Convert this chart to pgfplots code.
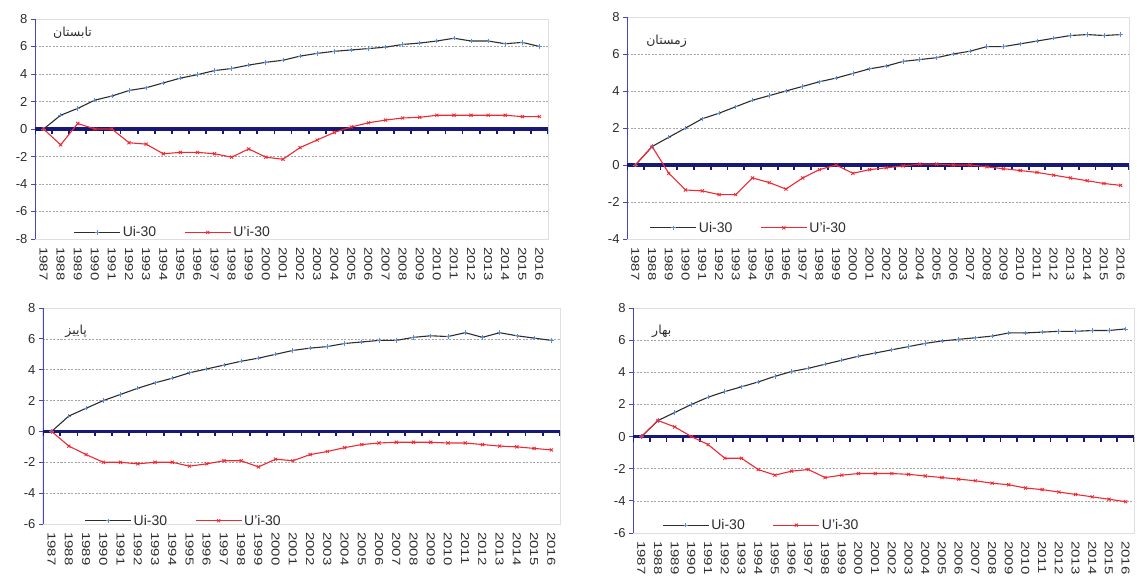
\documentclass[border=0pt]{standalone}
\usepackage{fontspec}
\setmainfont{Liberation Sans}
\newfontfamily\arabicfont[Script=Arabic]{DejaVu Sans}
\newfontfamily\yearfont[FakeStretch=1.3]{Liberation Sans}
\TeXXeTstate=1
\usepackage{pgfplots}
\pgfplotsset{compat=1.18}
\definecolor{navyz}{RGB}{24,24,120}
\definecolor{yax}{RGB}{70,70,190}
\definecolor{sonel}{RGB}{45,45,45}
\definecolor{sonem}{RGB}{90,140,220}
\definecolor{stwoc}{RGB}{240,40,50}
\definecolor{gridc}{RGB}{165,165,165}
\definecolor{tickc}{RGB}{45,45,45}

\pgfplotsset{
  panel/.style={
    scale only axis, anchor=south west,
    xmin=1986.5, xmax=2016.5,
    xtick={1987,...,2016},
    /pgf/number format/1000 sep={},
    /pgf/number format/assume math mode=true,
    xticklabel style={yshift=-4pt, rotate=-90, anchor=west, font=\yearfont\fontsize{11.5}{11.5}\selectfont, text=tickc, inner sep=0pt},
    yticklabel style={font=\fontsize{13}{13}\selectfont, text=tickc},
    x tick style={draw=none},
    ytick style={yax, line width=0.8pt},
    tick align=outside, tick pos=left,
    major tick length=4pt,
    axis line style={gray!25},
    ymajorgrids, grid style={gridc, dash pattern=on 2pt off 1.5pt, line width=0.6pt},
    legend columns=2,
    legend cell align=left,
    legend style={draw=none, fill=none, inner sep=0pt, anchor=west,
      font=\fontsize{14}{14}\selectfont, text=tickc,
      /tikz/every even column/.append style={column sep=26pt}},
    legend image code/.code={\draw[mark repeat=2,mark phase=2,##1] plot coordinates {(0pt,0pt)(23pt,0pt)(46pt,0pt)};},
  },
  sone/.style={sonel, line width=1.1pt, mark=+, mark size=2.2pt, mark options={sonem, line width=0.8pt}},
  stwo/.style={stwoc, line width=1.1pt, mark=x, mark size=2.2pt, mark options={stwoc, line width=0.8pt}},
}

\newcommand{\zeroline}{%
  \draw[yax, line width=1.2pt] (rel axis cs:0,0) -- (rel axis cs:0,1);
  \draw[navyz, line width=3.2pt] (axis cs:1986.5,0) -- (axis cs:2016.5,0);
  \pgfplotsinvokeforeach{1986.5,1987.5,...,2016.5}{\draw[navyz, line width=1.8pt] (axis cs:##1,0) -- ++(0pt,-5pt);}
}

\begin{document}
\begin{tikzpicture}
\useasboundingbox (0,0) rectangle (1137pt,-577pt);

% ---------------- Panel 1 : summer ----------------
\begin{axis}[panel, at={(35pt,-239pt)}, width=513pt, height=220pt,
  ymin=-8, ymax=8, ytick={-8,-6,...,8},
  legend style={at={(rel axis cs:0.075,0.03)}}]
\zeroline
\addplot[sone] coordinates {
(1987,0)(1988,1.0)(1989,1.5)(1990,2.1)(1991,2.4)(1992,2.8)(1993,3.0)(1994,3.35)(1995,3.7)(1996,3.95)
(1997,4.25)(1998,4.4)(1999,4.65)(2000,4.85)(2001,5.0)(2002,5.3)(2003,5.5)(2004,5.65)(2005,5.75)(2006,5.85)
(2007,5.95)(2008,6.15)(2009,6.25)(2010,6.4)(2011,6.6)(2012,6.4)(2013,6.4)(2014,6.2)(2015,6.3)(2016,6.0)};
\addlegendentry{Ui-30}
\addplot[stwo] coordinates {
(1987,0)(1988,-1.15)(1989,0.4)(1990,0)(1991,0)(1992,-1.0)(1993,-1.1)(1994,-1.8)(1995,-1.7)(1996,-1.7)
(1997,-1.8)(1998,-2.05)(1999,-1.45)(2000,-2.05)(2001,-2.2)(2002,-1.35)(2003,-0.8)(2004,-0.25)(2005,0.15)(2006,0.45)
(2007,0.65)(2008,0.8)(2009,0.85)(2010,1.0)(2011,1.0)(2012,1.0)(2013,1.0)(2014,1.0)(2015,0.9)(2016,0.9)};
\addlegendentry{U'i-30}
\node[anchor=north west, inner sep=0pt, text=tickc, font=\arabicfont\fontsize{12.5}{12.5}\selectfont] at (rel axis cs:0.035,0.965) {\beginR تابستان\endR};
\end{axis}

% ---------------- Panel 2 : winter ----------------
\begin{axis}[panel, at={(627pt,-239pt)}, width=502pt, height=222pt,
  ymin=-4, ymax=8, ytick={-4,-2,...,8},
  legend style={at={(rel axis cs:0.045,0.05)}}]
\zeroline
\addplot[sone] coordinates {
(1987,0)(1988,1.0)(1989,1.5)(1990,2.0)(1991,2.5)(1992,2.8)(1993,3.15)(1994,3.5)(1995,3.75)(1996,4.0)
(1997,4.25)(1998,4.5)(1999,4.7)(2000,4.95)(2001,5.2)(2002,5.35)(2003,5.6)(2004,5.7)(2005,5.8)(2006,6.0)
(2007,6.15)(2008,6.4)(2009,6.4)(2010,6.55)(2011,6.7)(2012,6.85)(2013,7.0)(2014,7.05)(2015,7.0)(2016,7.05)};
\addlegendentry{Ui-30}
\addplot[stwo] coordinates {
(1987,0)(1988,1.0)(1989,-0.45)(1990,-1.35)(1991,-1.4)(1992,-1.6)(1993,-1.6)(1994,-0.7)(1995,-0.95)(1996,-1.3)
(1997,-0.7)(1998,-0.25)(1999,0.0)(2000,-0.45)(2001,-0.25)(2002,-0.15)(2003,-0.05)(2004,0.05)(2005,0.05)(2006,0)
(2007,0)(2008,-0.1)(2009,-0.2)(2010,-0.3)(2011,-0.4)(2012,-0.55)(2013,-0.7)(2014,-0.85)(2015,-1.0)(2016,-1.1)};
\addlegendentry{U'i-30}
\node[anchor=north west, inner sep=0pt, text=tickc, font=\arabicfont\fontsize{12.5}{12.5}\selectfont] at (rel axis cs:0.038,0.92) {\beginR زمستان\endR};
\end{axis}

% ---------------- Panel 3 : autumn ----------------
\begin{axis}[panel, at={(43pt,-524pt)}, width=517pt, height=216pt,
  ymin=-6, ymax=8, ytick={-6,-4,...,8},
  legend style={at={(rel axis cs:0.08,0.015)}}]
\zeroline
\addplot[sone] coordinates {
(1987,0)(1988,1.0)(1989,1.5)(1990,2.0)(1991,2.4)(1992,2.8)(1993,3.15)(1994,3.45)(1995,3.8)(1996,4.05)
(1997,4.3)(1998,4.55)(1999,4.75)(2000,5.0)(2001,5.25)(2002,5.4)(2003,5.5)(2004,5.7)(2005,5.8)(2006,5.9)
(2007,5.9)(2008,6.1)(2009,6.2)(2010,6.15)(2011,6.4)(2012,6.1)(2013,6.4)(2014,6.2)(2015,6.05)(2016,5.9)};
\addlegendentry{Ui-30}
\addplot[stwo] coordinates {
(1987,0)(1988,-0.95)(1989,-1.5)(1990,-2.0)(1991,-2.0)(1992,-2.1)(1993,-2.0)(1994,-2.0)(1995,-2.25)(1996,-2.1)
(1997,-1.9)(1998,-1.9)(1999,-2.3)(2000,-1.8)(2001,-1.9)(2002,-1.5)(2003,-1.3)(2004,-1.05)(2005,-0.85)(2006,-0.75)
(2007,-0.7)(2008,-0.7)(2009,-0.7)(2010,-0.75)(2011,-0.75)(2012,-0.85)(2013,-0.95)(2014,-1.0)(2015,-1.1)(2016,-1.2)};
\addlegendentry{U'i-30}
\node[anchor=north west, inner sep=0pt, text=tickc, font=\arabicfont\fontsize{12.5}{12.5}\selectfont] at (rel axis cs:0.043,0.92) {\beginR پاییز\endR};
\end{axis}

% ---------------- Panel 4 : spring ----------------
\begin{axis}[panel, at={(633pt,-533pt)}, width=501pt, height=225pt,
  ymin=-6, ymax=8, ytick={-6,-4,...,8},
  legend style={at={(rel axis cs:0.058,0.035)}}]
\zeroline
\addplot[sone] coordinates {
(1987,0)(1988,1.0)(1989,1.5)(1990,2.0)(1991,2.45)(1992,2.8)(1993,3.1)(1994,3.4)(1995,3.75)(1996,4.05)
(1997,4.25)(1998,4.5)(1999,4.75)(2000,5.0)(2001,5.2)(2002,5.4)(2003,5.6)(2004,5.8)(2005,5.95)(2006,6.05)
(2007,6.15)(2008,6.25)(2009,6.45)(2010,6.45)(2011,6.5)(2012,6.55)(2013,6.55)(2014,6.6)(2015,6.6)(2016,6.7)};
\addlegendentry{Ui-30}
\addplot[stwo] coordinates {
(1987,0)(1988,1.0)(1989,0.6)(1990,0)(1991,-0.5)(1992,-1.35)(1993,-1.35)(1994,-2.05)(1995,-2.4)(1996,-2.15)
(1997,-2.05)(1998,-2.55)(1999,-2.4)(2000,-2.3)(2001,-2.3)(2002,-2.3)(2003,-2.35)(2004,-2.45)(2005,-2.55)(2006,-2.65)
(2007,-2.75)(2008,-2.9)(2009,-3.0)(2010,-3.2)(2011,-3.3)(2012,-3.45)(2013,-3.6)(2014,-3.75)(2015,-3.9)(2016,-4.05)};
\addlegendentry{U'i-30}
\node[anchor=north west, inner sep=0pt, text=tickc, font=\arabicfont\fontsize{12.5}{12.5}\selectfont] at (rel axis cs:0.038,0.924) {\beginR بهار\endR};
\end{axis}
\end{tikzpicture}
\end{document}
